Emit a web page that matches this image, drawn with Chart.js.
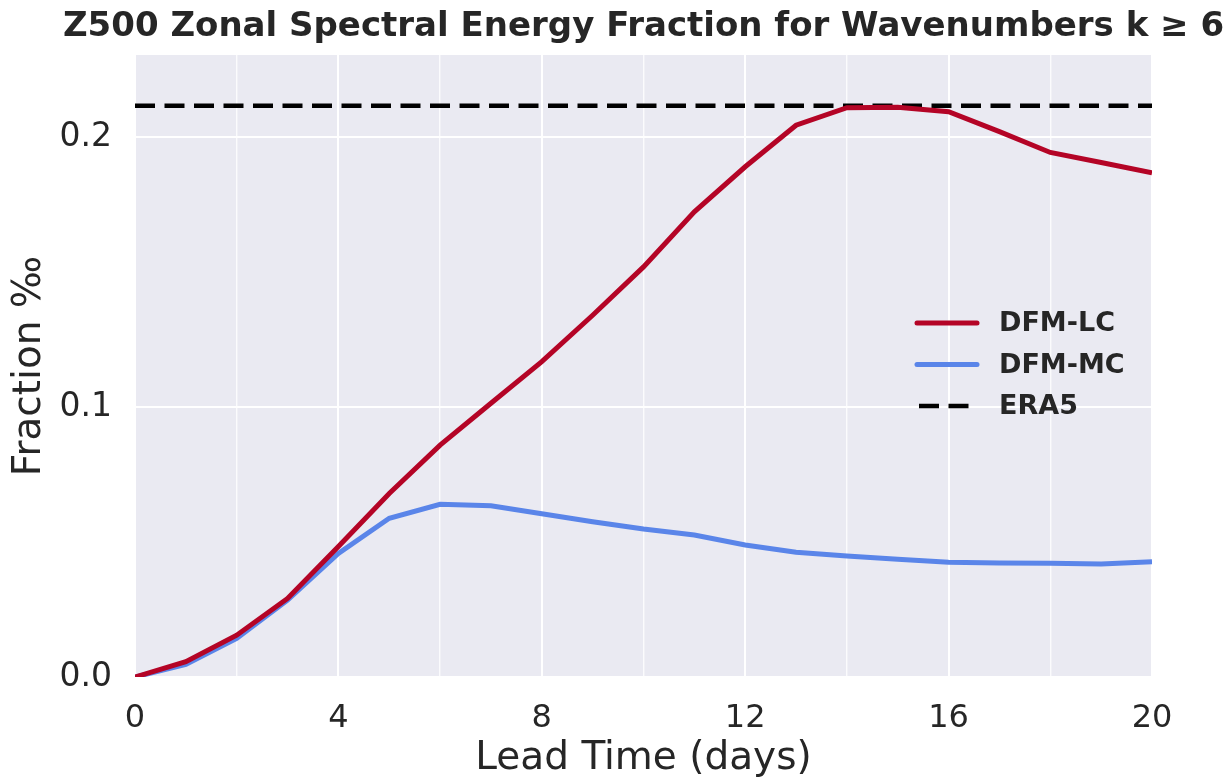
<!DOCTYPE html>
<html>
<head>
<meta charset="utf-8">
<script src="https://cdn.jsdelivr.net/npm/chart.js@4.4.1/dist/chart.umd.min.js"></script>
<style>
  html, body { margin: 0; padding: 0; background: #fff; }
  #wrap { width: 1232px; height: 780px; }
</style>
</head>
<body>
<div id="wrap"><canvas id="specChart" width="1232" height="780"></canvas></div>
<script>
// lead time (days)
const leadDays = [0, 1, 2, 3, 4, 5, 6, 7, 8, 9, 10, 11, 12, 13, 14, 15, 16, 17, 18, 19, 20];
// fraction values
const dfmLC = [0.0, 0.0057, 0.0155, 0.0291, 0.0483, 0.068, 0.0859, 0.1014, 0.1168, 0.134, 0.1519,
               0.1723, 0.189, 0.2044, 0.2109, 0.211, 0.2094, 0.202, 0.1943, 0.1906, 0.1868];
const dfmMC = [0.0, 0.0047, 0.0143, 0.0285, 0.0458, 0.0588, 0.064, 0.0634, 0.0605, 0.0575, 0.0548,
               0.0526, 0.0489, 0.0462, 0.0448, 0.0436, 0.0425, 0.0422, 0.0421, 0.0419, 0.0427];
const era5Level = 0.2116;
const xTicks = [0, 2, 4, 6, 8, 10, 12, 14, 16, 18, 20];
const yTicks = [0.0, 0.1, 0.2];
const chartTitle = 'Z500 Zonal Spectral Energy Fraction for Wavenumbers k \u2265 6';

const textColor = '#262626';
const fontFamily = '"DejaVu Sans", "Liberation Sans", sans-serif';

// grey seaborn-like plot background
const plotBackground = {
    id: 'plotBackground',
    beforeDraw(chart) {
        const { ctx, chartArea } = chart;
        ctx.save();
        ctx.fillStyle = '#EAEAF2';
        ctx.fillRect(chartArea.left, chartArea.top, chartArea.right - chartArea.left, chartArea.bottom - chartArea.top);
        ctx.restore();
    }
};

// title wider than the plot, centred over the plot area (built-in title would squeeze it)
const wideTitle = {
    id: 'wideTitle',
    afterDraw(chart) {
        const { ctx, chartArea } = chart;
        ctx.save();
        ctx.fillStyle = textColor;
        ctx.font = 'bold 34px ' + fontFamily;
        ctx.textAlign = 'center';
        ctx.textBaseline = 'middle';
        ctx.fillText(chartTitle, (chartArea.left + chartArea.right) / 2, 27);
        ctx.restore();
    }
};

// legend drawn inside the plot, right side
const innerLegend = {
    id: 'innerLegend',
    afterDatasetsDraw(chart) {
        const { ctx } = chart;
        const x0 = 917, x1 = 977, tx = 999;
        let y = 323;
        ctx.save();
        chart.data.datasets.forEach(ds => {
            ctx.beginPath();
            ctx.strokeStyle = ds.borderColor;
            ctx.lineWidth = ds.borderWidth;
            ctx.setLineDash(ds.borderDash || []);
            ctx.lineCap = ds.borderDash ? 'butt' : 'round';
            ctx.moveTo(ds.borderDash ? x0 + 2 : x0, y);
            ctx.lineTo(x1, y);
            ctx.stroke();
            ctx.setLineDash([]);
            ctx.fillStyle = textColor;
            ctx.font = 'bold 27px ' + fontFamily;
            ctx.textBaseline = 'middle';
            ctx.textAlign = 'left';
            ctx.fillText(ds.label, tx, y + 1);
            y += 41.5;
        });
        ctx.restore();
    }
};

document.addEventListener('DOMContentLoaded', function() {
    new Chart(document.getElementById('specChart'), {
        type: 'line',
        data: {
            labels: leadDays,
            datasets: [
                {
                    label: 'DFM-LC',
                    data: leadDays.map((d, i) => ({ x: d, y: dfmLC[i] })),
                    borderColor: '#B40426',
                    borderWidth: 5,
                    pointRadius: 0,
                    tension: 0
                },
                {
                    label: 'DFM-MC',
                    data: leadDays.map((d, i) => ({ x: d, y: dfmMC[i] })),
                    borderColor: '#5A85E9',
                    borderWidth: 5,
                    pointRadius: 0,
                    tension: 0
                },
                {
                    label: 'ERA5',
                    data: [{ x: leadDays[0], y: era5Level }, { x: leadDays[leadDays.length - 1], y: era5Level }],
                    borderColor: '#000000',
                    borderWidth: 4.5,
                    borderDash: [20, 9.5],
                    pointRadius: 0,
                    tension: 0
                }
            ]
        },
        options: {
            responsive: false,
            animation: false,
            devicePixelRatio: 1,
            layout: { padding: { left: 0, right: 80, top: 55, bottom: 0 } },
            plugins: {
                legend: { display: false },
                tooltip: { enabled: false },
                title: { display: false }
            },
            scales: {
                x: {
                    type: 'linear',
                    min: 0,
                    max: 20,
                    afterBuildTicks: scale => { scale.ticks = xTicks.map(v => ({ value: v })); },
                    afterFit: scale => { scale.height = 103; },
                    border: { display: false },
                    grid: {
                        drawTicks: false,
                        color: ctx => (ctx.tick && ctx.tick.value % 4 === 0) ? '#FFFFFF' : 'rgba(255,255,255,0.8)',
                        lineWidth: ctx => (ctx.tick && ctx.tick.value % 4 === 0) ? 2 : 1.4
                    },
                    ticks: {
                        autoSkip: false,
                        maxRotation: 0,
                        padding: 22,
                        color: textColor,
                        font: { family: fontFamily, size: 32 },
                        callback: v => (v % 4 === 0 ? String(v) : '')
                    },
                    title: {
                        display: true,
                        text: 'Lead Time (days)',
                        color: textColor,
                        font: { family: fontFamily, size: 39, lineHeight: 1.1 },
                        padding: 0
                    }
                },
                y: {
                    type: 'linear',
                    min: 0,
                    max: 0.2304,
                    afterBuildTicks: scale => { scale.ticks = yTicks.map(v => ({ value: v })); },
                    afterFit: scale => { scale.width = 135; },
                    border: { display: false },
                    grid: {
                        drawTicks: false,
                        color: '#FFFFFF',
                        lineWidth: 2
                    },
                    ticks: {
                        padding: 23,
                        color: textColor,
                        font: { family: fontFamily, size: 33 },
                        callback: v => v.toFixed(1)
                    },
                    title: {
                        display: true,
                        text: 'Fraction \u2030',
                        color: textColor,
                        font: { family: fontFamily, size: 39, lineHeight: 1.1 },
                        padding: { top: 8, bottom: 0 }
                    }
                }
            }
        },
        plugins: [plotBackground, innerLegend, wideTitle]
    });
});
</script>
</body>
</html>
